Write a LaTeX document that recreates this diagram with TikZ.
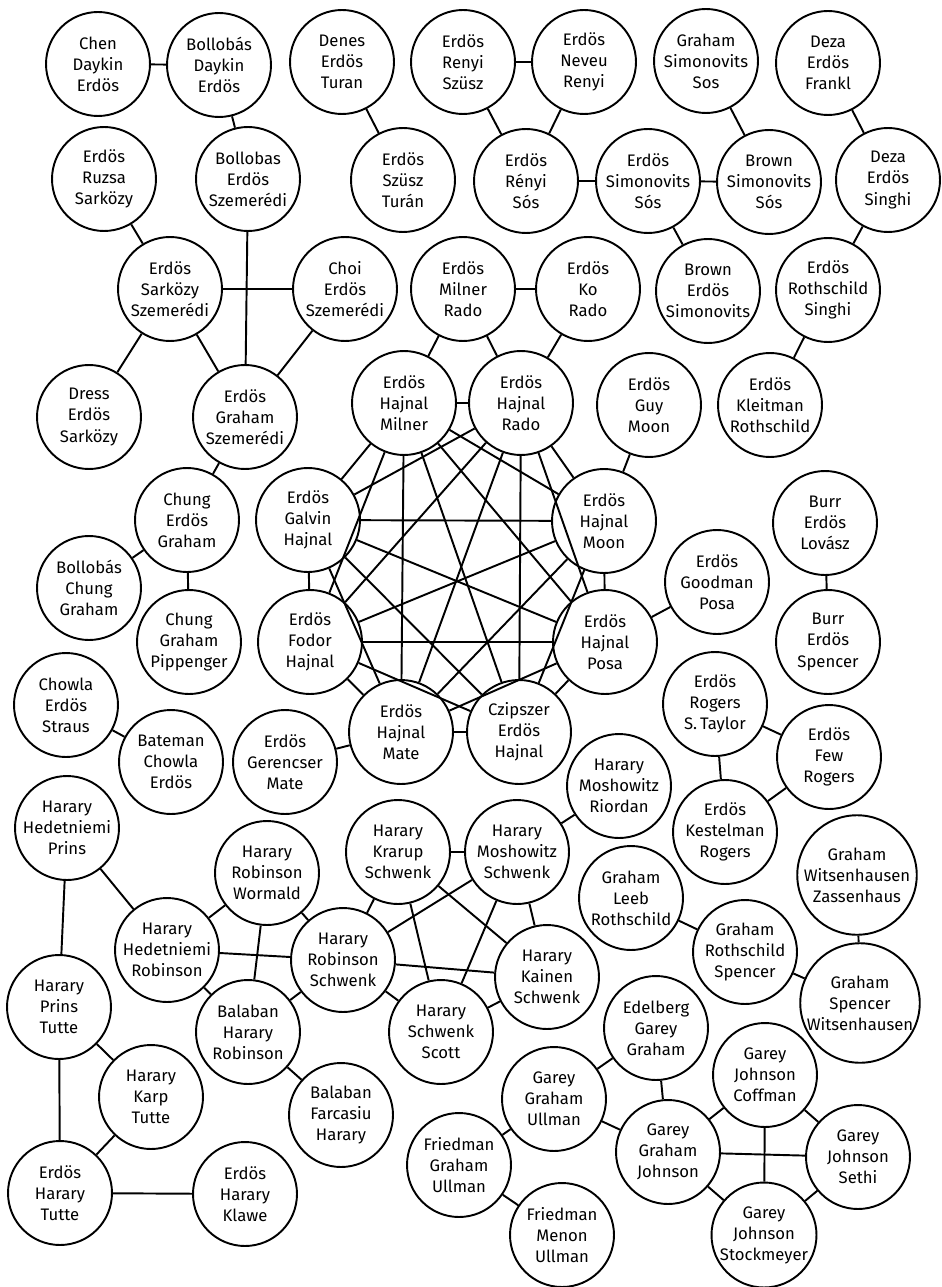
\documentclass[tikz,border=0pt]{standalone}
\usepackage{fontspec}
\setsansfont{Fira Sans}
\usepackage{tikz}
\usetikzlibrary{positioning}

\begin{document}
\begin{tikzpicture}[
    x=0.02cm, y=-0.02cm,
    font=\sffamily\fontsize{9.5}{12}\selectfont,
    paper/.style={
        draw,
        circle,
        line width=1.1pt,
        minimum size=2.08cm,
        inner sep=0pt,
        align=center
    },
    link/.style={line width=1.1pt}
]
    \useasboundingbox (0,0) rectangle (942,1287);

    %% Szemerédi-Gruppe
    \node[paper] (chen) at (98,64) {Chen\\Daykin\\Erdös};
    \node[paper] (bde) at (219,65) {Bollobás\\Daykin\\Erdös};
    \node[paper] (ers) at (104,179) {Erdös\\Ruzsa\\Sarközy};
    \node[paper] (bes) at (248,179) {Bollobas\\Erdös\\Szemerédi};
    \node[paper] (ess) at (170,289) {Erdös\\Sarközy\\Szemerédi};
    \node[paper] (choi) at (345,289) {Choi\\Erdös\\Szemerédi};
    \node[paper] (dres) at (89,417) {Dress\\Erdös\\Sarközy};
    \node[paper] (egs) at (245,417) {Erdös\\Graham\\Szemerédi};
    \node[paper] (ceg) at (187,520) {Chung\\Erdös\\Graham};
    \node[paper] (bcg) at (89,588) {Bollobás\\Chung\\Graham};
    \node[paper] (cgp) at (189,642) {Chung\\Graham\\Pippenger};

    %% Rényi, Simonovits, Deza
    \node[paper] (det) at (342,62) {Denes\\Erdös\\Turan};
    \node[paper] (est) at (403,180) {Erdös\\Szüsz\\Turán};
    \node[paper] (erszusz) at (463,62) {Erdös\\Renyi\\Szüsz};
    \node[paper] (enr) at (584,62) {Erdös\\Neveu\\Renyi};
    \node[paper] (ersos) at (526,181) {Erdös\\Rényi\\Sós};
    \node[paper] (esims) at (648,181) {Erdös\\Simonovits\\Sós};
    \node[paper] (gss) at (706,61) {Graham\\Simonovits\\Sos};
    \node[paper] (bss) at (769,182) {Brown\\Simonovits\\Sós};
    \node[paper] (besim) at (708,291) {Brown\\Erdös\\Simonovits};
    \node[paper] (def) at (828,63) {Deza\\Erdös\\Frankl};
    \node[paper] (desi) at (888,180) {Deza\\Erdös\\Singhi};
    \node[paper] (erothsi) at (828,290) {Erdös\\Rothschild\\Singhi};
    \node[paper] (ekr) at (770,405) {Erdös\\Kleitman\\Rothschild};

    %% Hajnal-Gruppe
    \node[paper] (emr) at (463,289) {Erdös\\Milner\\Rado};
    \node[paper] (ekorado) at (588,289) {Erdös\\Ko\\Rado};
    \node[paper] (ehmil) at (404,403) {Erdös\\Hajnal\\Milner};
    \node[paper] (ehrado) at (521,403) {Erdös\\Hajnal\\Rado};
    \node[paper] (egm) at (649,405) {Erdös\\Guy\\Moon};
    \node[paper] (egh) at (308,520) {Erdös\\Galvin\\Hajnal};
    \node[paper] (ehmoon) at (604,521) {Erdös\\Hajnal\\Moon};
    \node[paper] (efh) at (310,642) {Erdös\\Fodor\\Hajnal};
    \node[paper] (ehposa) at (605,642) {Erdös\\Hajnal\\Posa};
    \node[paper] (egp) at (717,582) {Erdös\\Goodman\\Posa};
    \node[paper] (ehmate) at (401,732) {Erdös\\Hajnal\\Mate};
    \node[paper] (ceh) at (519,732) {Czipszer\\Erdös\\Hajnal};
    \node[paper] (egermate) at (285,762) {Erdös\\Gerencser\\Mate};

    %% Burr, Rogers, Chowla
    \node[paper] (bel) at (825,523) {Burr\\Erdös\\Lovász};
    \node[paper] (bespen) at (828,642) {Burr\\Erdös\\Spencer};
    \node[paper] (erst) at (715,704) {Erdös\\Rogers\\S.\,Taylor};
    \node[paper] (efr) at (829,757) {Erdös\\Few\\Rogers};
    \node[paper] (ekestr) at (725,832) {Erdös\\Kestelman\\Rogers};
    \node[paper] (ces) at (66,705) {Chowla\\Erdös\\Straus};
    \node[paper] (bce) at (171,762) {Bateman\\Chowla\\Erdös};

    %% Harary-Gruppe
    \node[paper] (hhp) at (67,828) {Harary\\Hedetniemi\\Prins};
    \node[paper] (hrw) at (267,873) {Harary\\Robinson\\Wormald};
    \node[paper] (hhr) at (167,950) {Harary\\Hedetniemi\\Robinson};
    \node[paper] (hrs) at (343,960) {Harary\\Robinson\\Schwenk};
    \node[paper] (bhr) at (248,1032) {Balaban\\Harary\\Robinson};
    \node[paper] (bfh) at (341,1115) {Balaban\\Farcasiu\\Harary};
    \node[paper] (hks) at (398,852) {Harary\\Krarup\\Schwenk};
    \node[paper] (hms) at (517,852) {Harary\\Moshowitz\\Schwenk};
    \node[paper] (hmr) at (619,786) {Harary\\Moshowitz\\Riordan};
    \node[paper] (hkains) at (547,977) {Harary\\Kainen\\Schwenk};
    \node[paper] (hss) at (441,1032) {Harary\\Schwenk\\Scott};
    \node[paper] (hpt) at (59,1007) {Harary\\Prins\\Tutte};
    \node[paper] (hkt) at (151,1097) {Harary\\Karp\\Tutte};
    \node[paper] (eht) at (60,1193) {Erdös\\Harary\\Tutte};
    \node[paper] (ehk) at (245,1194) {Erdös\\Harary\\Klawe};

    %% Graham, Garey
    \node[paper] (glr) at (631,898) {Graham\\Leeb\\Rothschild};
    \node[paper] (grs) at (745,952) {Graham\\Rothschild\\Spencer};
    \node[paper] (gwz) at (857,875) {Graham\\Witsenhausen\\Zassenhaus};
    \node[paper] (gsw) at (860,1003) {Graham\\Spencer\\Witsenhausen};
    \node[paper] (egg) at (656,1028) {Edelberg\\Garey\\Graham};
    \node[paper] (ggu) at (554,1099) {Garey\\Graham\\Ullman};
    \node[paper] (fgu) at (459,1165) {Friedman\\Graham\\Ullman};
    \node[paper] (fmu) at (562,1235) {Friedman\\Menon\\Ullman};
    \node[paper] (ggj) at (668,1152) {Garey\\Graham\\Johnson};
    \node[paper] (gjc) at (765,1075) {Garey\\Johnson\\Coffman};
    \node[paper] (gjsethi) at (858,1157) {Garey\\Johnson\\Sethi};
    \node[paper] (gjstock) at (764,1235) {Garey\\Johnson\\Stockmeyer};

    %% Kanten oben links
    \draw[link] (chen) -- (bde);
    \draw[link] (bde) -- (bes);
    \draw[link] (ers) -- (ess);
    \draw[link] (bes) -- (egs);
    \draw[link] (ess) -- (choi);
    \draw[link] (ess) -- (dres);
    \draw[link] (ess) -- (egs);
    \draw[link] (choi) -- (egs);
    \draw[link] (egs) -- (ceg);
    \draw[link] (ceg) -- (bcg);
    \draw[link] (ceg) -- (cgp);

    %% Kanten oben
    \draw[link] (det) -- (est);
    \draw[link] (erszusz) -- (enr);
    \draw[link] (erszusz) -- (ersos);
    \draw[link] (enr) -- (ersos);
    \draw[link] (ersos) -- (esims);
    \draw[link] (esims) -- (bss);
    \draw[link] (gss) -- (bss);
    \draw[link] (esims) -- (besim);
    \draw[link] (def) -- (desi);
    \draw[link] (desi) -- (erothsi);
    \draw[link] (erothsi) -- (ekr);

    %% Kanten Hajnal
    \draw[link] (emr) -- (ekorado);
    \draw[link] (emr) -- (ehmil);
    \draw[link] (emr) -- (ehrado);
    \draw[link] (ekorado) -- (ehrado);
    \draw[link] (egm) -- (ehmoon);
    \draw[link] (ehposa) -- (egp);
    \draw[link] (ehmate) -- (egermate);
    \draw[link] (ehmil) -- (ehrado);
    \draw[link] (ehmil) -- (egh);
    \draw[link] (ehmil) -- (ehmoon);
    \draw[link] (ehmil) -- (efh);
    \draw[link] (ehmil) -- (ehposa);
    \draw[link] (ehmil) -- (ehmate);
    \draw[link] (ehmil) -- (ceh);
    \draw[link] (ehrado) -- (egh);
    \draw[link] (ehrado) -- (ehmoon);
    \draw[link] (ehrado) -- (efh);
    \draw[link] (ehrado) -- (ehposa);
    \draw[link] (ehrado) -- (ehmate);
    \draw[link] (ehrado) -- (ceh);
    \draw[link] (egh) -- (ehmoon);
    \draw[link] (egh) -- (efh);
    \draw[link] (egh) -- (ehposa);
    \draw[link] (egh) -- (ehmate);
    \draw[link] (egh) -- (ceh);
    \draw[link] (ehmoon) -- (efh);
    \draw[link] (ehmoon) -- (ehposa);
    \draw[link] (ehmoon) -- (ehmate);
    \draw[link] (ehmoon) -- (ceh);
    \draw[link] (efh) -- (ehposa);
    \draw[link] (efh) -- (ehmate);
    \draw[link] (efh) -- (ceh);
    \draw[link] (ehposa) -- (ehmate);
    \draw[link] (ehposa) -- (ceh);
    \draw[link] (ehmate) -- (ceh);

    %% Kanten rechts und links
    \draw[link] (bel) -- (bespen);
    \draw[link] (erst) -- (efr);
    \draw[link] (erst) -- (ekestr);
    \draw[link] (ekestr) -- (efr);
    \draw[link] (ces) -- (bce);

    %% Kanten Harary
    \draw[link] (hhp) -- (hhr);
    \draw[link] (hhp) -- (hpt);
    \draw[link] (hrw) -- (hhr);
    \draw[link] (hrw) -- (hrs);
    \draw[link] (hrw) -- (bhr);
    \draw[link] (hhr) -- (hrs);
    \draw[link] (hhr) -- (bhr);
    \draw[link] (bhr) -- (hrs);
    \draw[link] (bhr) -- (bfh);
    \draw[link] (hrs) -- (hks);
    \draw[link] (hrs) -- (hms);
    \draw[link] (hrs) -- (hkains);
    \draw[link] (hrs) -- (hss);
    \draw[link] (hks) -- (hms);
    \draw[link] (hks) -- (hss);
    \draw[link] (hks) -- (hkains);
    \draw[link] (hms) -- (hss);
    \draw[link] (hms) -- (hkains);
    \draw[link] (hss) -- (hkains);
    \draw[link] (hms) -- (hmr);
    \draw[link] (hpt) -- (hkt);
    \draw[link] (hpt) -- (eht);
    \draw[link] (hkt) -- (eht);
    \draw[link] (eht) -- (ehk);

    %% Kanten Graham, Garey
    \draw[link] (glr) -- (grs);
    \draw[link] (grs) -- (gsw);
    \draw[link] (gsw) -- (gwz);
    \draw[link] (egg) -- (ggj);
    \draw[link] (egg) -- (ggu);
    \draw[link] (ggu) -- (ggj);
    \draw[link] (ggu) -- (fgu);
    \draw[link] (fgu) -- (fmu);
    \draw[link] (ggj) -- (gjc);
    \draw[link] (ggj) -- (gjsethi);
    \draw[link] (ggj) -- (gjstock);
    \draw[link] (gjc) -- (gjsethi);
    \draw[link] (gjc) -- (gjstock);
    \draw[link] (gjsethi) -- (gjstock);
\end{tikzpicture}
\end{document}
